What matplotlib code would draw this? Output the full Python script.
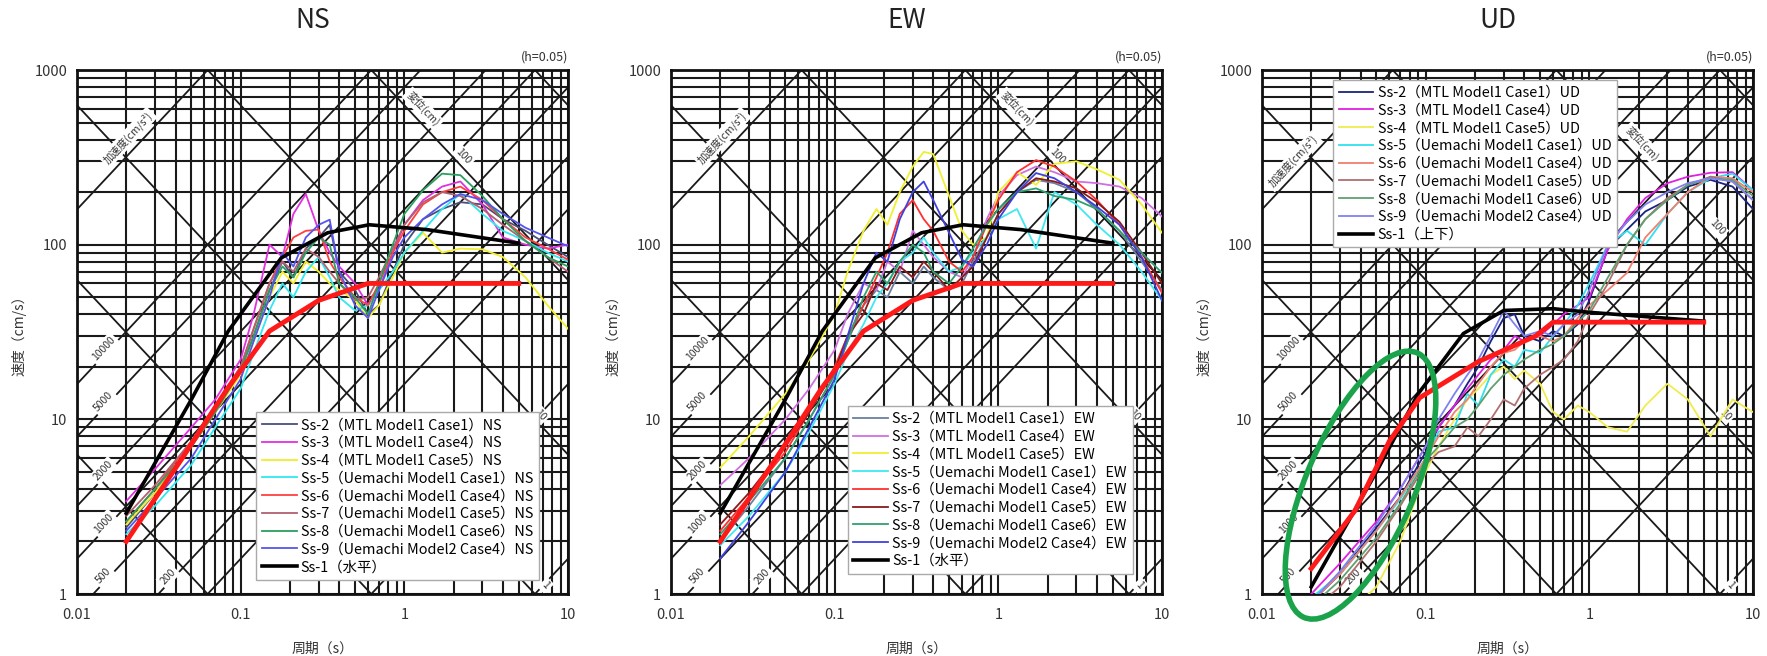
import numpy as np
import matplotlib
matplotlib.use('Agg')
import matplotlib.pyplot as plt
from matplotlib.patches import Ellipse
from matplotlib.ticker import NullFormatter

plt.rcParams['font.family'] = ['Noto Sans CJK JP', 'DejaVu Sans']

period = [0.02, 0.03, 0.05, 0.07, 0.1, 0.12, 0.15, 0.18, 0.21, 0.25, 0.3, 0.35, 0.4,
          0.5, 0.6, 0.7, 0.85, 1.0, 1.3, 1.7, 2.2, 3.0, 4.0, 5.5, 7.5, 10.0]

# NS pseudo velocity (cm/s)
ns_ss2 = [2.4, 3.8, 7, 11, 19, 30, 55, 80, 65, 95, 110, 130, 70, 55, 40, 45, 70, 100, 140, 160, 175, 170, 140, 120, 100, 85]
ns_ss3 = [3.4, 5.2, 9, 13, 22, 40, 100, 85, 150, 195, 120, 90, 75, 60, 45, 55, 90, 130, 180, 215, 230, 170, 110, 100, 95, 100]
ns_ss4 = [2.5, 3.8, 7, 11, 18, 28, 50, 70, 60, 80, 70, 60, 55, 48, 38, 45, 65, 90, 117, 90, 95, 94, 85, 65, 45, 33]
ns_ss5 = [2.2, 3.2, 5.5, 9, 15, 24, 42, 60, 50, 70, 85, 65, 50, 42, 45, 55, 70, 90, 120, 160, 195, 150, 120, 105, 90, 80]
ns_ss6 = [2.6, 4.0, 7.5, 12, 20, 33, 60, 85, 110, 120, 122, 80, 65, 50, 45, 60, 90, 120, 170, 200, 215, 180, 140, 110, 95, 82]
ns_ss7 = [2.8, 4.2, 7.5, 12, 20, 33, 60, 80, 70, 95, 85, 70, 60, 48, 50, 65, 95, 130, 175, 200, 190, 160, 130, 105, 85, 70]
ns_ss8 = [2.6, 4.0, 7, 11, 19, 30, 55, 75, 65, 90, 110, 100, 60, 50, 40, 60, 100, 150, 205, 255, 250, 190, 140, 105, 85, 75]
ns_ss9 = [2.3, 3.5, 6, 10, 17, 28, 50, 90, 75, 110, 130, 139, 70, 45, 38, 55, 85, 110, 140, 170, 195, 180, 150, 125, 110, 98]

# EW
ew_ss2 = [2.0, 3.2, 6, 10, 18, 28, 45, 55, 50, 70, 60, 75, 65, 55, 60, 80, 110, 150, 200, 235, 225, 200, 160, 120, 80, 55]
ew_ss3 = [4.2, 6, 10, 15, 25, 40, 60, 55, 80, 70, 120, 100, 85, 70, 65, 85, 140, 190, 250, 280, 260, 230, 225, 215, 185, 145]
ew_ss4 = [5.3, 8, 14, 22, 40, 70, 120, 160, 130, 200, 280, 340, 330, 190, 120, 100, 110, 200, 260, 220, 290, 300, 270, 235, 170, 117]
ew_ss5 = [1.9, 2.8, 5, 8.5, 16, 24, 35, 50, 60, 80, 90, 110, 90, 70, 75, 90, 110, 140, 160, 95, 200, 170, 130, 100, 70, 48]
ew_ss6 = [2.3, 3.6, 6.5, 11, 20, 30, 45, 65, 90, 150, 180, 140, 120, 80, 70, 85, 130, 180, 260, 305, 280, 230, 180, 130, 85, 53]
ew_ss7 = [2.5, 3.8, 7, 11, 19, 30, 40, 60, 55, 75, 65, 80, 70, 55, 65, 75, 110, 150, 200, 240, 230, 210, 175, 135, 90, 60]
ew_ss8 = [2.2, 3.4, 6, 10, 18, 28, 50, 70, 60, 80, 100, 90, 70, 60, 75, 95, 130, 160, 200, 210, 190, 180, 160, 120, 90, 69]
ew_ss9 = [1.6, 2.6, 5, 9, 17, 30, 60, 90, 80, 140, 200, 230, 180, 117, 82, 75, 100, 140, 200, 257, 240, 200, 165, 130, 85, 48]

# UD
ud_ss2 = [0.9, 1.3, 2.4, 3.6, 6.5, 9, 12, 16, 20, 28, 38, 40, 30, 28, 32, 30, 35, 48, 95, 122, 155, 180, 215, 235, 215, 160]
ud_ss3 = [1.0, 1.5, 2.6, 4, 7, 9, 12, 15, 18, 22, 25, 30, 28, 30, 35, 40, 45, 50, 94, 140, 185, 225, 245, 258, 260, 205]
ud_ss4 = [0.5, 0.7, 1.1, 2.0, 5, 7, 10, 13, 15, 18, 20, 17, 19, 16, 11, 10, 12, 11, 9, 8.5, 12, 16, 13, 8, 13, 11]
ud_ss5 = [0.95, 1.3, 2.3, 3.5, 6, 8.5, 9, 14, 12, 18, 22, 20, 25, 24, 30, 35, 45, 60, 100, 120, 100, 150, 200, 240, 255, 205]
ud_ss6 = [0.9, 1.3, 2.3, 3.6, 6, 8, 11, 13, 16, 20, 24, 25, 28, 30, 28, 30, 38, 45, 55, 69, 110, 150, 200, 245, 240, 200]
ud_ss7 = [0.8, 1.1, 2.0, 3.2, 5.5, 6.5, 7, 9, 8, 10, 13, 12, 15, 18, 20, 22, 28, 40, 60, 100, 140, 185, 220, 245, 230, 180]
ud_ss8 = [0.85, 1.2, 2.1, 3.3, 5.8, 7, 9, 10, 12, 15, 18, 20, 22, 25, 27, 30, 36, 42, 65, 100, 140, 180, 220, 240, 235, 190]
ud_ss9 = [0.9, 1.35, 2.5, 4, 7, 10, 14, 18, 22, 30, 42, 35, 30, 32, 30, 35, 40, 55, 100, 135, 170, 200, 225, 240, 230, 180]

# Ss-1 design spectra (thick black)
h_ss1_t = [0.02, 0.05, 0.084, 0.177, 0.34, 0.61, 1.37, 5.0]
h_ss1_v = [2.9, 13, 32, 84, 117, 130, 122, 102]
v_ss1_t = [0.02, 0.05, 0.09, 0.17, 0.3, 0.6, 1.0, 5.0]
v_ss1_v = [1.1, 5.0, 14, 31, 42, 43, 41, 36.5]

# thick red comparison spectrum
h_red_t = [0.02, 0.044, 0.083, 0.15, 0.3, 0.6, 5.0]
h_red_v = [2.0, 6.0, 15, 32, 48, 60, 60]
v_red_t = [0.02, 0.037, 0.06, 0.092, 0.21, 0.47, 0.6, 5.0]
v_red_v = [1.4, 3.0, 7.5, 13.3, 21.4, 30, 36, 36]

case_names = ['Ss-2（MTL Model1 Case1）', 'Ss-3（MTL Model1 Case4）', 'Ss-4（MTL Model1 Case5）',
              'Ss-5（Uemachi Model1 Case1）', 'Ss-6（Uemachi Model1 Case4）', 'Ss-7（Uemachi Model1 Case5）',
              'Ss-8（Uemachi Model1 Case6）', 'Ss-9（Uemachi Model2 Case4）']

ns_colors = ['#4a4f7a', '#e030e0', '#f2ee2a', '#30e8f0', '#ff4040', '#b06070', '#2aa060', '#5555ee']
ew_colors = ['#6a7fa0', '#d070e0', '#f0f030', '#40e8f0', '#ff3030', '#8a1a1a', '#30a070', '#4040e0']
ud_colors = ['#1a237e', '#e020e0', '#f0ec50', '#30e0f0', '#f08070', '#b07070', '#60a070', '#8080f0']

# tripartite guide lines
accel_lines = [1, 10, 100, 200, 500, 1000, 2000, 5000, 10000, 100000]  # cm/s2
disp_lines = [0.01, 0.1, 1, 10, 100, 1000]  # cm
accel_tags = [10000, 5000, 2000, 1000, 500]

ellipse_center = (0.04, 4.2)  # UD annotation, data coords

W, H = 1767, 656
fig = plt.figure(figsize=(W / 100, H / 100), dpi=100)


def make_axes(left_px):
    return fig.add_axes([left_px / W, 62 / H, 491 / W, 524 / H])


def draw_panel(ax, title, comp, curves, colors, ss1_t, ss1_v, ss1_name, red_t, red_v,
               leg_loc, leg_anchor, disp_pos, disp100_pos, acc_pos):
    ax.set_xscale('log')
    ax.set_yscale('log')
    ax.set_xlim(0.01, 10)
    ax.set_ylim(1, 1000)
    ax.set_axisbelow(True)
    ax.grid(True, which='both', color='#1a1a1a', lw=1.5)

    t = np.array([0.01, 10.0])
    for a in accel_lines:
        ax.plot(t, a * t / (2 * np.pi), color='#1a1a1a', lw=1.3, zorder=1)
    for d in disp_lines:
        ax.plot(t, 2 * np.pi * d / t, color='#1a1a1a', lw=1.3, zorder=1)

    box = dict(fc='white', ec='none', pad=1.5)
    tag = dict(ha='center', va='center', fontsize=7.5, color='#333', bbox=box, zorder=2)
    for a in accel_tags:
        ax.text(0.0145, a * 0.0145 / (2 * np.pi) * 1.1, str(a), rotation=47, **tag)
    ax.text(0.036, 200 * 0.036 / (2 * np.pi) * 1.1, '200', rotation=47, **tag)
    ax.text(acc_pos[0], acc_pos[1], '加速度(cm/s²)', rotation=47, **tag)
    ax.text(disp_pos[0], disp_pos[1], '変位(cm)', rotation=-47, **tag)
    ax.text(disp100_pos[0], disp100_pos[1], '100', rotation=-47, **tag)
    ax.text(6.8, 2 * np.pi * 10 / 6.8 * 1.15, '10', rotation=-47, **tag)
    ax.text(7.3, 1.12, '1', rotation=-47, **tag)

    for vals, name, c in zip(curves, case_names, colors):
        ax.plot(period, vals, color=c, lw=1.3, label=name + comp, zorder=3)
    ax.plot(ss1_t, ss1_v, color='black', lw=2.6, label=ss1_name, zorder=4)
    ax.plot(red_t, red_v, color='#ff1a1a', lw=3.5, label='_nolegend_', zorder=5)

    ax.set_xticks([0.01, 0.1, 1, 10])
    ax.set_xticklabels(['0.01', '0.1', '1', '10'])
    ax.set_yticks([1, 10, 100, 1000])
    ax.set_yticklabels(['1', '10', '100', '1000'])
    ax.xaxis.set_minor_formatter(NullFormatter())
    ax.yaxis.set_minor_formatter(NullFormatter())
    ax.tick_params(which='both', length=0, labelsize=10.5, colors='#333')
    ax.tick_params(axis='x', pad=10)
    ax.tick_params(axis='y', pad=7)
    for s in ax.spines.values():
        s.set_linewidth(2)
        s.set_color('#111')

    ax.set_xlabel('周期（s）', fontsize=10, color='#333', labelpad=14)
    ax.set_ylabel('速度（cm/s）', fontsize=10, color='#333', labelpad=6)
    ax.text(0.48, 1.095, title, transform=ax.transAxes, ha='center', va='center', fontsize=19, color='#222')
    ax.text(1.0, 1.012, '(h=0.05)', transform=ax.transAxes, ha='right', va='bottom', fontsize=9, color='#333')

    leg = ax.legend(loc=leg_loc, bbox_to_anchor=leg_anchor, fontsize=10.4, frameon=True, fancybox=False,
                    edgecolor='#aaaaaa', framealpha=1, handlelength=2.4, labelspacing=0.26,
                    borderpad=0.4, handletextpad=0.3)
    leg.set_zorder(20)


ax_ns = make_axes(77)
draw_panel(ax_ns, 'NS', 'NS', [ns_ss2, ns_ss3, ns_ss4, ns_ss5, ns_ss6, ns_ss7, ns_ss8, ns_ss9], ns_colors,
           h_ss1_t, h_ss1_v, 'Ss-1（水平）', h_red_t, h_red_v,
           'lower left', (0.35, 0.013), (1.3, 600), (2.3, 320), (0.0205, 410))

ax_ew = make_axes(671)
draw_panel(ax_ew, 'EW', 'EW', [ew_ss2, ew_ss3, ew_ss4, ew_ss5, ew_ss6, ew_ss7, ew_ss8, ew_ss9], ew_colors,
           h_ss1_t, h_ss1_v, 'Ss-1（水平）', h_red_t, h_red_v,
           'lower left', (0.345, 0.025), (1.3, 600), (2.3, 320), (0.0205, 410))

ax_ud = make_axes(1262)
draw_panel(ax_ud, 'UD', 'UD', [ud_ss2, ud_ss3, ud_ss4, ud_ss5, ud_ss6, ud_ss7, ud_ss8, ud_ss9], ud_colors,
           v_ss1_t, v_ss1_v, 'Ss-1（上下）', v_red_t, v_red_v,
           'upper left', (0.13, 0.995), (2.1, 380), (6.0, 125), (0.0155, 300))

# green ellipse marking the short-period part of UD
cx, cy = ax_ud.transAxes.inverted().transform(ax_ud.transData.transform(ellipse_center))
ax_ud.add_patch(Ellipse((cx, cy), width=0.555, height=0.218, angle=65, transform=ax_ud.transAxes,
                        fill=False, ec='#1aa34a', lw=4, clip_on=False, zorder=30))

fig.savefig('out.png', dpi=100)
